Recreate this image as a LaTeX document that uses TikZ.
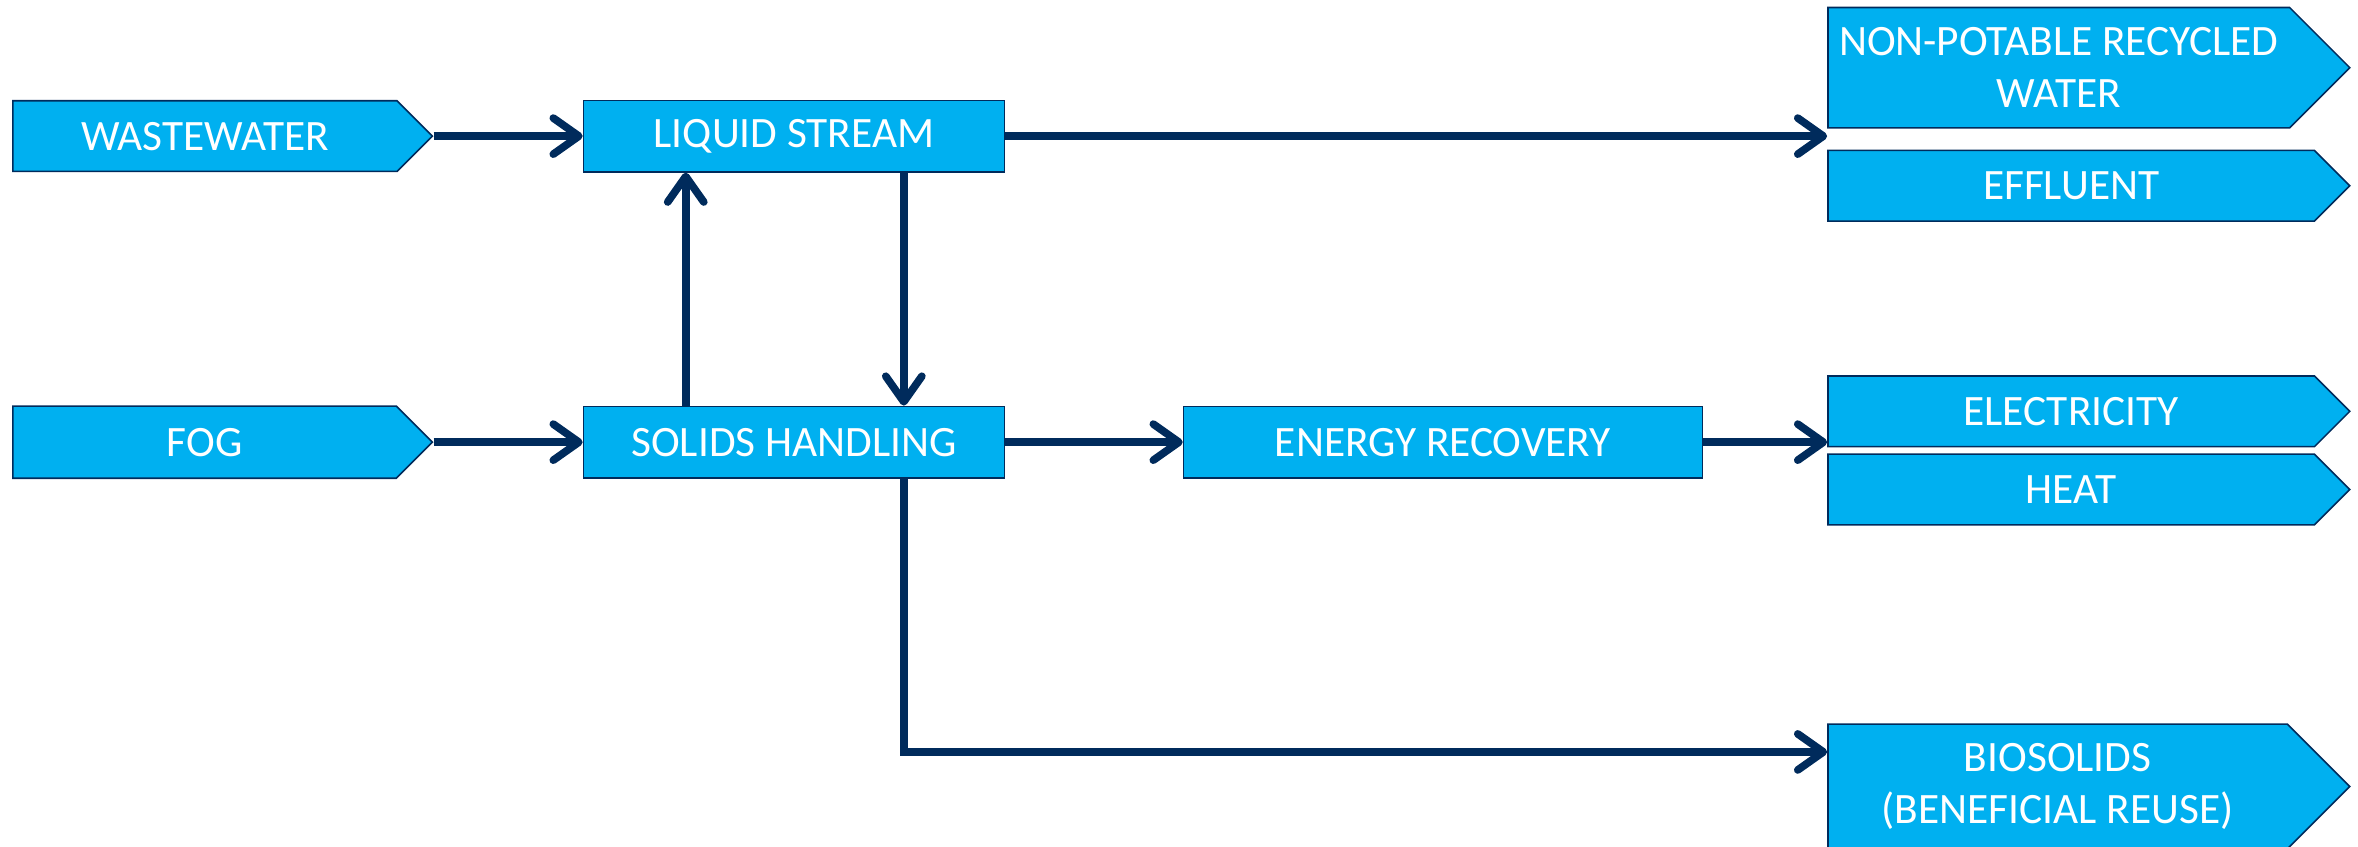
\documentclass[tikz,border=0pt]{standalone}
\usepackage{fontspec}
\setmainfont{Carlito}
\usepackage{tikz}
\usetikzlibrary{positioning,calc,arrows.meta,shapes.symbols}
\definecolor{boxblue}{RGB}{0,176,240}
\definecolor{navy}{RGB}{0,43,92}

\begin{document}
\begin{tikzpicture}
		[   x=0.2mm,y=-0.2mm,
		    pnode/.style={draw=navy,line width=0.6pt,fill=boxblue,text=white,inner sep=0pt,
		    	font=\fontsize{16.4}{19.5}\selectfont,align=center,minimum width=#1},
		    pbox/.style={pnode=#1,rectangle,minimum height=9.5mm},
		    pflag/.style={pnode=#1,signal,signal to=east,signal pointer angle=90},
		]
		\tikzset{flow arrow/.style={draw=navy,line width=2.9pt,-{Straight Barb[length=3.4mm,width=4.8mm,round]}}}
		\useasboundingbox (0,0) rectangle (1568,563);
		
		% inputs
		\node[pflag=55.8mm,minimum height=9.4mm,anchor=west] (waste) at (8,90.5) {WASTEWATER};
		\node[pflag=55.8mm,minimum height=9.6mm,anchor=west] (fog) at (8,294) {FOG};
		
		% process
		\node[pbox=56mm] (liquid) at (528,90.5) {LIQUID STREAM};
		\node[pbox=56mm] (solids) at (528,294) {SOLIDS HANDLING};
		\node[pbox=69mm] (energy) at (959.5,294) {ENERGY RECOVERY};
		
		% outputs
		\node[pflag=69.4mm,minimum height=16mm,anchor=west] (npw) at (1215,45) {NON-POTABLE RECYCLED\\WATER};
		\node[pflag=69.4mm,minimum height=9.4mm,anchor=west] (effl) at (1215,123.5) {EFFLUENT};
		\node[pflag=69.4mm,minimum height=9.4mm,anchor=west] (elec) at (1215,273.5) {ELECTRICITY};
		\node[pflag=69.4mm,minimum height=9.4mm,anchor=west] (heat) at (1215,325.5) {HEAT};
		\node[pflag=69.4mm,minimum height=16.6mm,anchor=west] (bio) at (1215,523) {BIOSOLIDS\\(BENEFICIAL REUSE)};
		
		\coordinate (waterin) at (effl.west |- liquid.east);
		\coordinate (powerin) at (elec.west |- energy.east);
		\coordinate (bioin) at ([yshift=4.6mm]bio.west);
		
		\path[flow arrow] (waste.east) -- (liquid.west);
		\path[flow arrow] (fog.east) -- (solids.west);
		\path[flow arrow] (liquid.east) -- (waterin);
		\path[flow arrow] ([xshift=14.6mm]liquid.south) -- ([xshift=14.6mm]solids.north);
		\path[flow arrow] ([xshift=-14.4mm]solids.north) -- ([xshift=-14.4mm]liquid.south);
		\path[flow arrow] (solids.east) -- (energy.west);
		\path[flow arrow] (energy.east) -- (powerin);
		\path[flow arrow] ([xshift=14.6mm]solids.south) |- (bioin);
		
\end{tikzpicture}
\end{document}
